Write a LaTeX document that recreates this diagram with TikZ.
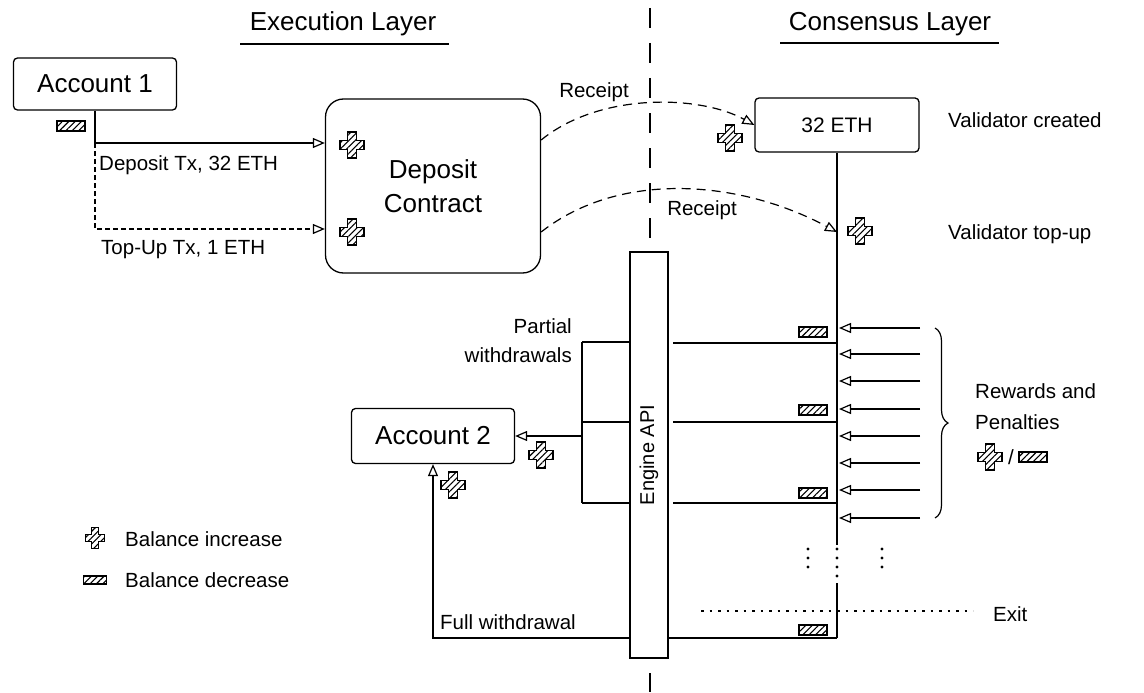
\documentclass[tikz,border=0pt]{standalone}
\usepackage{fontspec}
\setmainfont{Liberation Sans}
\usetikzlibrary{arrows.meta,patterns.meta,decorations.pathreplacing,calc}
\tikzset{
  ln/.style={line width=1.2pt},
  ar/.style={ln,-{Triangle[open,length=12pt,width=10pt,line width=1.2pt]}},
  sbox/.style={draw,line width=1.3pt,rounded corners=4pt,fill=white,inner sep=0pt},
  lbl/.style={font=\fontsize{20.5}{24}\selectfont,inner sep=0pt},
  ttl/.style={font=\fontsize{26}{30}\selectfont,inner sep=0pt},
  big/.style={font=\fontsize{26}{31}\selectfont},
  hatch/.style={pattern={Lines[angle=45,distance=4.5pt,line width=1.1pt]}},
  plusicon/.pic={\draw[line width=1.1pt,hatch] (-4.5,-13) -- (4.5,-13) -- (4.5,-4.5) -- (12,-4.5) -- (12,4.5) -- (4.5,4.5) -- (4.5,13) -- (-4.5,13) -- (-4.5,4.5) -- (-12,4.5) -- (-12,-4.5) -- (-4.5,-4.5) -- cycle;},
  minusicon/.pic={\draw[line width=1.1pt,hatch] (-14,-5) rectangle (14,5);}
}
\begin{document}
\begin{tikzpicture}[x=1pt,y=-1pt]
\useasboundingbox (0,0) rectangle (1144,693);
% titles
\node[ttl] (tEL) at (343,24) {Execution Layer};
\coordinate (uEL1) at (240,44); \coordinate (uEL2) at (449,44);
\draw[ln] (uEL1) -- (uEL2);
\node[ttl] (tCL) at (890,24) {Consensus Layer};
\coordinate (uCL1) at (780,43); \coordinate (uCL2) at (999,43);
\draw[ln] (uCL1) -- (uCL2);
% divider
\coordinate (dvT) at (650,8); \coordinate (dvB) at (650,692);
\draw[line width=1.3pt, dash pattern=on 20pt off 15pt] (dvT) -- (dvB);

% Account 1 and deposit contract
\node[sbox,big,minimum width=163,minimum height=52] (acc1) at (95,84) {Account 1};
\node[sbox,rounded corners=18pt,minimum width=215,minimum height=174,align=center,font=\fontsize{26}{34}\selectfont] (dc) at (433,186) {Deposit\\Contract};
\pic at (71,126) {minusicon};
\coordinate (split) at (95,143);
\coordinate (dcA) at (dc.west |- split);
\coordinate (dcB) at ($(dc.west)+(0,43)$);
\draw[ln] (acc1.south) -- (split);
\draw[ar] (split) -- (dcA);
\draw[ar,dash pattern=on 5pt off 3pt] (split) |- (dcB);
\node[lbl,anchor=west] (lDep) at (99,165) {Deposit Tx, 32 ETH};
\node[lbl,anchor=west] (lTop) at (101,250) {Top-Up Tx, 1 ETH};
\pic at (352,145) {plusicon};
\pic at (352,232) {plusicon};

% 32 ETH validator
\node[sbox,font=\fontsize{21}{25}\selectfont,minimum width=164,minimum height=54] (eth) at (837,125) {32 ETH};
\pic at (730,138) {plusicon};
\node[lbl,anchor=west] (lVC) at (948,120) {Validator created};
\node[lbl,anchor=west] (lVT) at (948,234) {Validator top-up};

% receipts
\coordinate (r1s) at ($(dc.east)+(0,-46)$);
\draw[ar,dash pattern=on 9pt off 6pt] (r1s) .. controls (600,92) and (700,95) .. (eth.west);
\node[lbl] (lR1) at (594,92) {Receipt};
\coordinate (r2s) at ($(dc.east)+(0,46)$);
\coordinate (vTop) at (837,232);
\draw[ar,dash pattern=on 9pt off 6pt] (r2s) .. controls (620,170) and (740,180) .. (vTop);
\node[lbl] (lR2) at (702,210) {Receipt};
\pic at (860,231) {plusicon};

% validator timeline
\coordinate (v1) at (837,545);
\draw[ln] (eth.south) -- (v1);
\coordinate (v2) at (837,583);
\coordinate (vBot) at (837,638);
\draw[ln] (v2) -- (vBot);
\foreach \x in {808,837,882} {
  \foreach \y in {549,558,567} { \fill (\x,\y) circle (1.7); }
}
\fill (837,576) circle (1.7);

% rewards arrows
\foreach \y [count=\i] in {328,354,381,409,436,463,490,518} {
  \coordinate (rs\i) at (920,\y); \coordinate (re\i) at (839,\y);
  \draw[ar] (rs\i) -- (re\i);
}
\coordinate (bT) at (935,328); \coordinate (bB) at (935,518);
\draw[ln,decorate,decoration={brace,amplitude=13pt}] (bT) -- (bB);
\node[anchor=west,align=left,font=\fontsize{20.5}{31}\selectfont,inner sep=0pt] (lRP) at (975,407) {Rewards and\\Penalties};
\pic at (990,457) {plusicon};
\node[lbl] (slash) at (1011,457) {/};
\pic at (1033,457) {minusicon};

% balance decreases on validator
\pic at (813,332) {minusicon};
\pic at (813,410) {minusicon};
\pic at (813,493) {minusicon};
\pic at (813,630) {minusicon};

% withdrawals lines
\foreach \y [count=\i] in {343,422,503} {
  \coordinate (hL\i) at (673,\y); \coordinate (hR\i) at (837,\y);
  \draw[ln] (hL\i) -- (hR\i);
}
\foreach \y [count=\i] in {342,422,503} {
  \coordinate (gL\i) at (582,\y); \coordinate (gR\i) at (630,\y);
  \draw[ln] (gL\i) -- (gR\i);
}
\draw[ln] (gL1) -- (gL3);
\node[sbox,big,minimum width=163,minimum height=55] (acc2) at (433,436) {Account 2};
\coordinate (pMid) at (582,436);
\draw[ar] (pMid) -- (acc2.east);
\node[anchor=east,align=right,font=\fontsize{20.5}{29}\selectfont,inner sep=0pt] (lPW) at (572,341) {Partial\\withdrawals};
\pic at (541,455) {plusicon};
\pic at (453,485) {plusicon};

% full withdrawal
\draw[ar] (vBot) -| (acc2.south);
\node[lbl,anchor=west] (lFW) at (440,622) {Full withdrawal};

% exit
\coordinate (eL) at (701,611); \coordinate (eR) at (973,611);
\draw[line width=2.4pt, dash pattern=on 2.5pt off 6pt] (eL) -- (eR);
\node[lbl,anchor=west] (lExit) at (993,614) {Exit};

% Engine API
\node[draw,line width=1.3pt,fill=white,rotate=90,minimum width=406,minimum height=38,inner sep=0pt,font=\fontsize{20}{24}\selectfont] (api) at (649,455) {Engine API};

% legend
\pic[scale=0.8] at (95,538) {plusicon};
\node[lbl,anchor=west] (lInc) at (125,539) {Balance increase};
\pic[scale=0.8] at (95,580) {minusicon};
\node[lbl,anchor=west] (lDec) at (125,580) {Balance decrease};
\end{tikzpicture}
\end{document}
